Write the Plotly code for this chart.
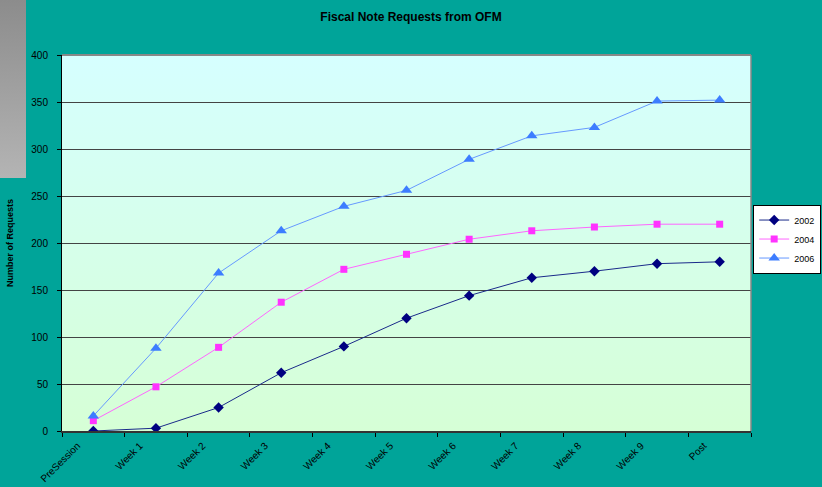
import base64
import plotly.graph_objects as go

categories = ["PreSession", "Week 1", "Week 2", "Week 3", "Week 4", "Week 5",
              "Week 6", "Week 7", "Week 8", "Week 9", "Post"]
y2002 = [0, 3, 25, 62, 90, 120, 144, 163, 170, 178, 180]
y2004 = [11, 47, 89, 137, 172, 188, 204, 213, 217, 220, 220]
y2006 = [16, 88, 168, 213, 239, 256, 289, 314, 323, 351, 352]
y_ticks = [0, 50, 100, 150, 200, 250, 300, 350, 400]


def svg_uri(top, bottom):
    svg = ('<svg xmlns="http://www.w3.org/2000/svg" width="100" height="100" preserveAspectRatio="none">'
           '<defs><linearGradient id="g" x1="0" y1="0" x2="0" y2="1">'
           f'<stop offset="0" stop-color="{top}"/><stop offset="1" stop-color="{bottom}"/>'
           '</linearGradient></defs><rect width="100" height="100" fill="url(#g)"/></svg>')
    return "data:image/svg+xml;base64," + base64.b64encode(svg.encode()).decode()


fig = go.Figure()
fig.add_trace(go.Scatter(x=categories, y=y2002, name="2002", mode="lines+markers",
                         line=dict(color="#1a2a8a", width=1),
                         marker=dict(symbol="diamond", size=8, color="#000080")))
fig.add_trace(go.Scatter(x=categories, y=y2004, name="2004", mode="lines+markers",
                         line=dict(color="#ff66ff", width=1),
                         marker=dict(symbol="square", size=7, color="#ff33ff")))
fig.add_trace(go.Scatter(x=categories, y=y2006, name="2006", mode="lines+markers",
                         line=dict(color="#6699ff", width=1),
                         marker=dict(symbol="triangle-up", size=10, color="#3d7dff")))

fig.update_layout(
    width=822, height=487,
    paper_bgcolor="#00a499",
    plot_bgcolor="rgba(0,0,0,0)",
    margin=dict(l=62, r=71, t=55, b=56, autoexpand=False),
    font=dict(family="Liberation Sans, Arial, sans-serif", size=10, color="#000000"),
    title=dict(text="<b>Fiscal Note Requests from OFM</b>", x=0.5, xanchor="center",
               y=0.965, yanchor="middle", font=dict(size=12, color="#000000")),
    showlegend=True,
    legend=dict(xref="container", x=0.999, xanchor="right", y=0.58, yanchor="top",
                yref="container",
                bgcolor="#ffffff", bordercolor="#000000", borderwidth=1,
                font=dict(size=9), itemwidth=30, tracegroupgap=0),
    images=[
        dict(source=svg_uri("#d6ffff", "#d6ffd6"), xref="x domain", yref="y domain",
             x=0, y=1, sizex=1, sizey=1, xanchor="left", yanchor="top",
             sizing="stretch", layer="below"),
        dict(source=svg_uri("#8c8c8c", "#b4b4b4"), xref="paper", yref="paper",
             x=-62 / 689, y=1 + 55 / 376, sizex=26 / 689, sizey=178 / 376,
             xanchor="left", yanchor="top", sizing="stretch", layer="below"),
    ],
)
fig.update_xaxes(type="category", range=[-0.5, 10.5], tickson="boundaries",
                 ticks="outside", ticklen=4, tickcolor="#000000", tickangle=-45,
                 showline=True, linecolor="#333333", linewidth=2, mirror=False,
                 showgrid=False, tickfont=dict(size=10), automargin=False,
                 ticklabelshift=-16, ticklabelstandoff=3)
fig.update_yaxes(range=[0, 400], tickvals=y_ticks, ticks="outside", ticklen=4,
                 tickcolor="#000000", showline=True, linecolor="#000000", linewidth=1,
                 showgrid=True, gridcolor="#444444", gridwidth=1, zeroline=False,
                 tickfont=dict(size=10), automargin=False, ticklabelstandoff=7,
                 title=dict(text="<b>Number of Requests</b>", font=dict(size=9), standoff=16))
# gray border on top and right of plot area
fig.add_shape(type="line", xref="x domain", yref="y domain", x0=0, x1=1, y0=1, y1=1,
              line=dict(color="#888888", width=2), layer="above")
fig.add_shape(type="line", xref="x domain", yref="y domain", x0=1, x1=1, y0=0, y1=1,
              line=dict(color="#888888", width=1.5), layer="above")

fig.write_html("out.html", config={"displayModeBar": False},
               post_script="document.body.style.margin='0';")
